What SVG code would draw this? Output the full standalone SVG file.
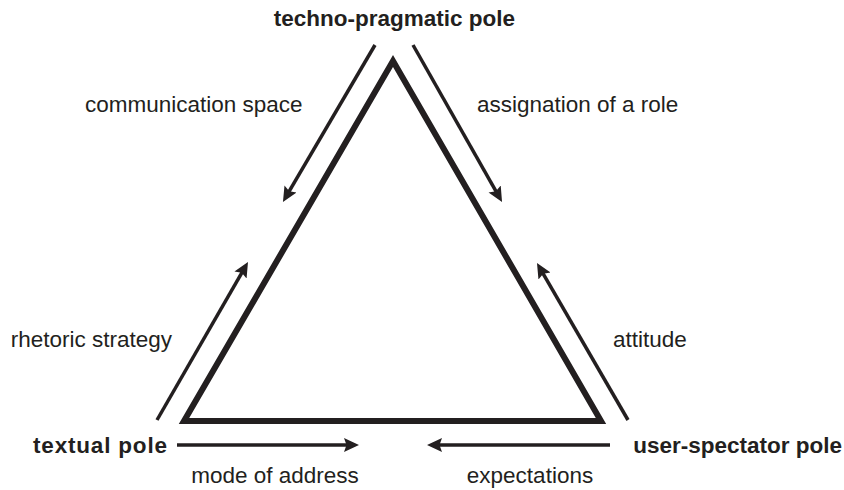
<svg xmlns="http://www.w3.org/2000/svg" width="844" height="490" viewBox="0 0 844 490">
  <style>
    .lbl { font-family: "Liberation Sans", Arial, Helvetica, sans-serif; font-size: 22.5px; fill: #231f20; }
    .pole { font-weight: bold; }
    .arr { stroke: #231f20; stroke-width: 3.5; fill: none; marker-end: url(#ah); }
    .tri { stroke: #231f20; stroke-width: 6; fill: none; stroke-linejoin: miter; stroke-miterlimit: 10; }
  </style>
  <defs>
    <marker id="ah" markerUnits="userSpaceOnUse" markerWidth="18" markerHeight="18" viewBox="0 -9 18 18" refX="6" refY="0" orient="auto">
      <path d="M0,-7 L15,0 L0,7 L2.5,0 Z" fill="#231f20"/>
    </marker>
  </defs>
  <rect width="844" height="490" fill="#ffffff"/>
  <g id="triangle">
    <polygon class="tri" points="184,421 393,61 601,421"/>
  </g>
  <g id="connectors">
    <line class="arr" x1="375" y1="45" x2="287.5" y2="194.2"/>
    <line class="arr" x1="413" y1="45" x2="497.6" y2="194.2"/>
    <line class="arr" x1="157" y1="420" x2="243.5" y2="269.8"/>
    <line class="arr" x1="628" y1="420" x2="541.5" y2="270.8"/>
    <line class="arr" x1="177" y1="445" x2="350" y2="445"/>
    <line class="arr" x1="610" y1="445" x2="436" y2="445"/>
  </g>
  <g id="techno-pragmatic-pole">
    <text class="lbl pole" x="394.5" y="26" text-anchor="middle">techno-pragmatic pole</text>
  </g>
  <g id="textual-pole">
    <text class="lbl pole" x="33" y="453" textLength="134" lengthAdjust="spacing">textual pole</text>
  </g>
  <g id="user-spectator-pole">
    <text class="lbl pole" x="842" y="453" text-anchor="end">user-spectator pole</text>
  </g>
  <g id="labels">
    <text class="lbl" x="85" y="112">communication space</text>
    <text class="lbl" x="477" y="112">assignation of a role</text>
    <text class="lbl" x="172" y="347" text-anchor="end">rhetoric strategy</text>
    <text class="lbl" x="613" y="347">attitude</text>
    <text class="lbl" x="275" y="483" text-anchor="middle">mode of address</text>
    <text class="lbl" x="530" y="483" text-anchor="middle">expectations</text>
  </g>
</svg>
